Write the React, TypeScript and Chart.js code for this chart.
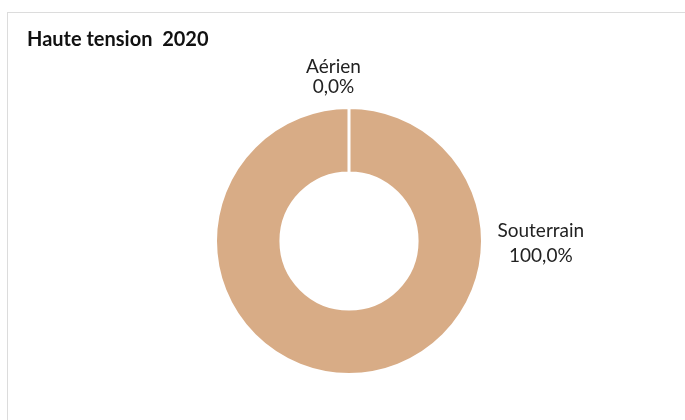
import React, { useEffect, useRef } from "react";
import { Chart, registerables } from "chart.js";

Chart.register(...registerables);

const titleText = "Haute tension  2020";
const categories = ["Aérien", "Souterrain"];
const values = [0, 100];
const sliceColors = ["#D8AC86", "#D8AC86"];
// label direction (degrees, 0 = right, -90 = top) and line spacing, per category
const labelAngles = [-96, 1];
const labelLineHeights = [20, 25];

const fmtPct = (v: number, total: number) =>
  ((v / total) * 100).toFixed(1).replace(".", ",") + "%";

const labelPlugin = {
  id: "outsideLabels",
  afterDatasetsDraw(chart: any) {
    const ctx = chart.ctx;
    const meta = chart.getDatasetMeta(0);
    const total = values.reduce((a, b) => a + b, 0);
    ctx.save();
    // title
    ctx.font = "bold 20px Lato, 'Open Sans', sans-serif";
    ctx.fillStyle = "#111";
    ctx.textAlign = "left";
    ctx.textBaseline = "alphabetic";
    ctx.fillText(titleText, 27, 46);

    ctx.font = "19px Lato, 'Open Sans', sans-serif";
    ctx.fillStyle = "#222";
    meta.data.forEach((arc: any, i: number) => {
      const { x, y, outerRadius } = arc.getProps(["x", "y", "outerRadius"], true);
      const a = (labelAngles[i] * Math.PI) / 180;
      const dist = outerRadius + 15;
      const ax = x + Math.cos(a) * dist;
      const ay = y + Math.sin(a) * dist;
      const lines = [categories[i], fmtPct(values[i], total)];
      const lh = labelLineHeights[i];
      const w = Math.max(...lines.map((l) => ctx.measureText(l).width));
      let cx: number;
      let firstBaseline: number;
      if (Math.cos(a) > 0.5) {
        cx = ax + w / 2;
        firstBaseline = ay - lh / 2 + 6;
      } else {
        cx = ax;
        firstBaseline = ay - lh * (lines.length - 1);
      }
      ctx.textAlign = "center";
      lines.forEach((l, k) => ctx.fillText(l, cx, firstBaseline + k * lh));
    });
    ctx.restore();
  },
};

export default function App() {
  const ref = useRef<HTMLCanvasElement>(null);
  useEffect(() => {
    if (!ref.current) return;
    const chart = new Chart(ref.current, {
      type: "doughnut",
      data: {
        labels: categories,
        datasets: [
          {
            data: values,
            backgroundColor: sliceColors,
            borderColor: "#ffffff",
            borderWidth: 3,
          },
        ],
      },
      options: {
        animation: false,
        responsive: false,
        cutout: "51%",
        layout: { padding: { left: 214, right: 201, top: 106, bottom: 44 } },
        plugins: {
          legend: { display: false },
          tooltip: { enabled: false },
          title: { display: false },
        },
      },
      plugins: [labelPlugin],
    });
    return () => chart.destroy();
  }, []);
  return (
    <div
      style={{
        position: "fixed",
        left: 0,
        top: 0,
        width: 685,
        height: 420,
        background: "#fff",
        overflow: "hidden",
      }}
    >
      <div
        style={{
          position: "absolute",
          left: 7,
          top: 12,
          width: 700,
          height: 430,
          borderLeft: "1px solid #dcdcdc",
          borderTop: "1px solid #dcdcdc",
        }}
      />
      <canvas
        ref={ref}
        width={685}
        height={420}
        style={{ position: "absolute", left: 0, top: 0, width: 685, height: 420 }}
      />
    </div>
  );
}
